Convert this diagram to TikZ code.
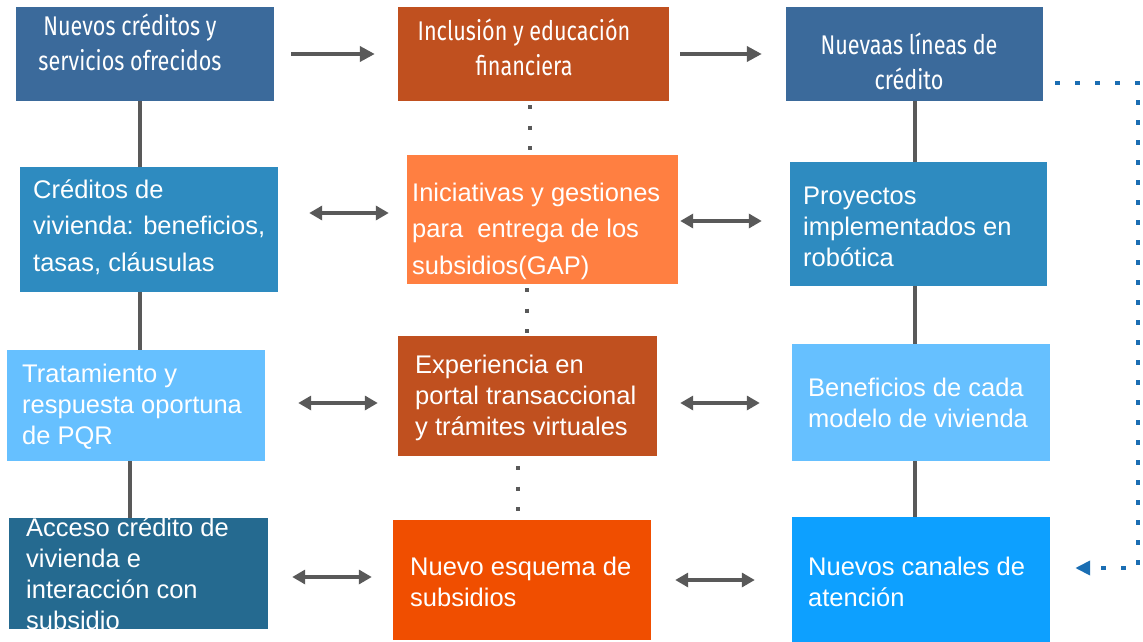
\documentclass[tikz,border=0pt]{standalone}
\usepackage{fontspec}
\setmainfont{Liberation Sans}
\newfontfamily\condfont[FakeStretch=0.80]{Fira Sans}
\usetikzlibrary{arrows.meta}
\definecolor{cSteel}{HTML}{3B6A9B}
\definecolor{cRust}{HTML}{C0501F}
\definecolor{cMid}{HTML}{2E8BC0}
\definecolor{cOrange}{HTML}{FF7F41}
\definecolor{cLight}{HTML}{66C0FF}
\definecolor{cTeal}{HTML}{256A90}
\definecolor{cRed}{HTML}{F04E00}
\definecolor{cBright}{HTML}{0DA0FF}
\definecolor{cGray}{HTML}{595959}
\definecolor{cDot}{HTML}{1B6EB3}
\tikzset{
  box/.style={rectangle, inner sep=0pt, draw=none},
  toptxt/.style={text=white, font=\condfont\fontsize{27}{35}\selectfont, align=center, inner sep=0pt},
  txt/.style={text=white, font=\fontsize{25.5}{31}\selectfont, align=left, inner sep=0pt, anchor=west},
  wtxt/.style={txt, font=\fontsize{25.5}{36.5}\selectfont},
  arr/.style={draw=cGray, line width=4pt, -{Triangle[length=15pt,width=15pt]}},
  darr/.style={draw=cGray, line width=4pt, {Triangle[length=13pt,width=14pt]}-{Triangle[length=13pt,width=14pt]}},
  vline/.style={draw=cGray, line width=4pt},
  gdot/.style={draw=cGray, line width=4pt, dash pattern=on 4pt off 16.5pt},
  bdot/.style={draw=cDot, line width=4.5pt, dash pattern=on 4.5pt off 15.5pt}
}
\begin{document}
\begin{tikzpicture}[x=1pt,y=-1pt]
\useasboundingbox (0,0) rectangle (1143,642);
% boxes
\node[box, fill=cSteel, minimum width=258, minimum height=94] (a1) at (145,54) {};
\node[box, fill=cRust, minimum width=271, minimum height=94] (a2) at (533.5,54) {};
\node[box, fill=cSteel, minimum width=257, minimum height=94] (a3) at (914.5,54) {};
\node[box, fill=cMid, minimum width=258, minimum height=125] (b1) at (149,229.5) {};
\node[box, fill=cOrange, minimum width=271, minimum height=129] (b2) at (542.5,219.5) {};
\node[box, fill=cMid, minimum width=257, minimum height=124] (b3) at (918.5,224) {};
\node[box, fill=cLight, minimum width=258, minimum height=111] (c1) at (136,405.5) {};
\node[box, fill=cRust, minimum width=259, minimum height=120] (c2) at (527.5,396) {};
\node[box, fill=cLight, minimum width=258, minimum height=117] (c3) at (921,402.5) {};
\node[box, fill=cTeal, minimum width=259, minimum height=111] (d1) at (138.5,573.5) {};
\node[box, fill=cRed, minimum width=258, minimum height=120] (d2) at (522,580) {};
\node[box, fill=cBright, minimum width=258, minimum height=125] (d3) at (921,579.5) {};
% texts
\node[toptxt] (a1t) at (130,42) {Nuevos créditos y\\servicios ofrecidos};
\node[toptxt] (a2t) at (524,47) {Inclusión y educación\\financiera};
\node[toptxt] (a3t) at (909,61) {Nuevaas líneas de\\crédito};
\node[wtxt] (b1t) at (33,227) {Créditos de\\vivienda: beneficios,\\tasas, cláusulas};
\node[wtxt] (b2t) at (412,231) {Iniciativas y gestiones\\para\ \ entrega de los\\subsidios(GAP)};
\node[txt] (b3t) at (803,227) {Proyectos\\implementados en\\robótica};
\node[txt] (c1t) at (22,407) {Tratamiento y\\respuesta oportuna\\de PQR};
\node[txt] (c2t) at (415,398) {Experiencia en\\portal transaccional\\y trámites virtuales};
\node[txt] (c3t) at (808,403) {Beneficios de cada\\modelo de vivienda};
\node[txt] (d1t) at (26,574) {Acceso crédito de\\vivienda\ e\\interacción con\\subsidio};
\node[txt] (d2t) at (410,582) {Nuevo\ esquema de\\subsidios};
\node[txt] (d3t) at (808,582) {Nuevos canales de\\atención};
% single arrows
\draw[arr, shorten <=17pt, shorten >=23pt] (a1.east) -- (a2.west);
\draw[arr, shorten <=11pt, shorten >=24pt] (a2.east) -- (a3.west);
% double arrows
\draw[darr, shorten <=31pt, shorten >=18pt] (b1.east |- 0,213) -- (b2.west |- 0,213);
\draw[darr, shorten <=2pt, shorten >=28pt] (b2.east |- 0,221) -- (b3.west |- 0,221);
\draw[darr, shorten <=33pt, shorten >=20pt] (c1.east |- 0,403) -- (c2.west |- 0,403);
\draw[darr, shorten <=23pt, shorten >=32pt] (c2.east |- 0,403) -- (c3.west |- 0,403);
\draw[darr, shorten <=24pt, shorten >=21pt] (d1.east |- 0,577) -- (d2.west |- 0,577);
\draw[darr, shorten <=24pt, shorten >=37pt] (d2.east |- 0,580) -- (d3.west |- 0,580);
% vertical solid lines
\draw[vline] (a1.south -| 140,0) -- (b1.north -| 140,0);
\draw[vline] (b1.south -| 140,0) -- (c1.north -| 140,0);
\draw[vline] (c1.south -| 130,0) -- (d1.north -| 130,0);
\draw[vline] (a3.south -| 915,0) -- (b3.north -| 915,0);
\draw[vline] (b3.south -| 915,0) -- (c3.north -| 915,0);
\draw[vline] (c3.south -| 915,0) -- (d3.north -| 915,0);
% dotted gray
\draw[gdot] ([yshift=-4pt]a2.south -| 530,0) -- (b2.north -| 530,0);
\draw[gdot] ([yshift=-4pt]b2.south -| 527,0) -- (c2.north -| 527,0);
\draw[gdot] ([yshift=-10pt]c2.south -| 518,0) -- (d2.north -| 518,0);
% blue dotted loop
\coordinate (k1) at (1138,83);
\coordinate (k2) at (1138,568);
\draw[bdot, -{Triangle[length=15pt,width=14pt]}, shorten >=25pt]
  ([xshift=12pt]a3.east |- 0,83) -- (k1) -- (k2) -- (d3.east |- 0,568);
\end{tikzpicture}
\end{document}
